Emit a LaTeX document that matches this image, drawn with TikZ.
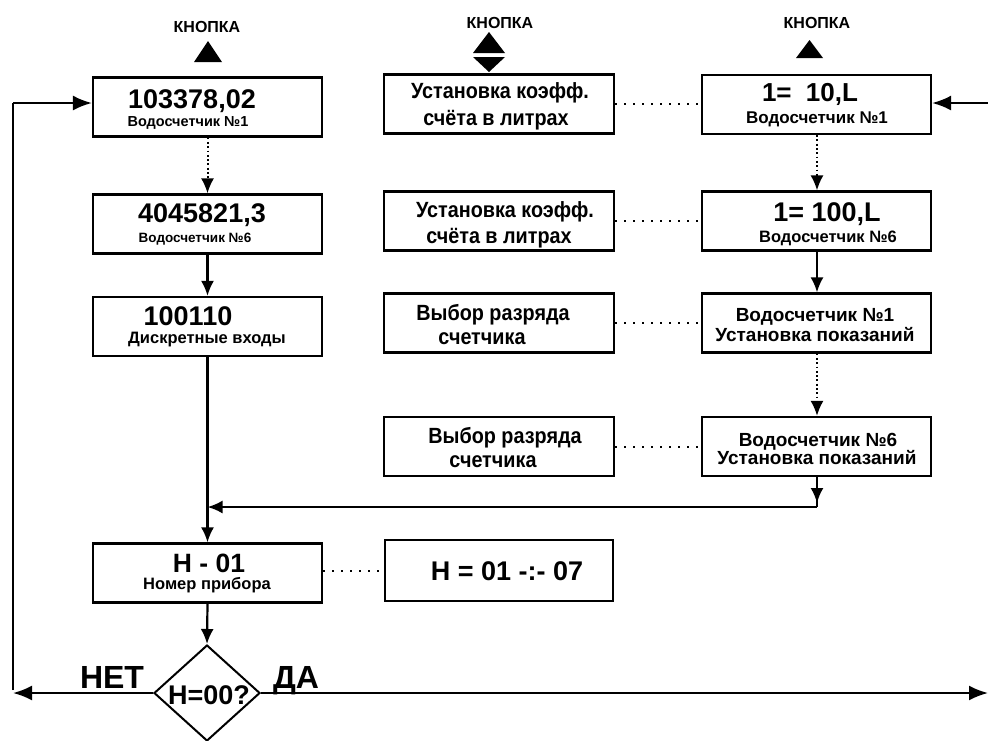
\documentclass[tikz,border=0pt]{standalone}
\usepackage{fontspec}
\setmainfont{Liberation Sans}
\newfontfamily\narrowf[FakeStretch=0.9]{Liberation Sans}
\usetikzlibrary{arrows.meta,shapes.geometric}
\newcommand{\fsz}[1]{\fontsize{#1}{#1}\selectfont}
\begin{document}
\begin{tikzpicture}[x=1pt,y=-1pt,
  box/.style={draw,line width=2.2pt,rectangle,inner sep=0pt,minimum width=229pt,minimum height=59pt},
  txt/.style={inner sep=0pt,anchor=base,font=\bfseries},
  conn/.style={line width=2.2pt,-{Latex[length=15pt,width=13pt]}},
  bigarr/.style={line width=2.2pt,-{Latex[length=19pt,width=15pt]}},
  dotconn/.style={line width=2pt,dash pattern=on 1.8pt off 2.5pt,-{Latex[length=15pt,width=13pt]}},
  dotline/.style={line width=2pt,dash pattern=on 2pt off 7pt},
  plain/.style={line width=2.2pt},
  tri/.style={fill=black,draw=none}]
\useasboundingbox (0,0) rectangle (988,740);
\clip (0,0) rectangle (988,740);

% ---- buttons
\node[txt,font=\bfseries\fsz{16}] (k1) at (207,32) {КНОПКА};
\node[txt,font=\bfseries\fsz{16}] (k2) at (500,28) {КНОПКА};
\node[txt,font=\bfseries\fsz{16}] (k3) at (817,28) {КНОПКА};
\fill[tri] (194,62) -- (222,62) -- (208,41) -- cycle;
\fill[tri] (796,58) -- (823,58) -- (809.5,40) -- cycle;
\fill[tri] (473,53) -- (505,53) -- (489,32) -- cycle;
\fill[tri] (473,57) -- (505,57) -- (489,72) -- cycle;

% ---- left column
\node[box] (l1) at (207.5,107) {};
\node[box] (l2) at (207.5,224) {};
\node[box] (l3) at (207.5,326.5) {};
\node[box] (l4) at (207.5,573) {};
\node[draw,line width=2pt,diamond,inner sep=0pt,minimum width=106pt,minimum height=96pt] (d) at (207,693) {};

\node[txt,font=\bfseries\fsz{27}] (l1a) at (192,108) {103378,02};
\node[txt,font=\bfseries\fsz{14.5}] (l1b) at (188,126) {Водосчетчик №1};
\node[txt,font=\bfseries\fsz{27}] (l2a) at (202,222) {4045821,3};
\node[txt,font=\bfseries\fsz{13.5}] (l2b) at (195,242) {Водосчетчик №6};
\node[txt,font=\bfseries\fsz{27}] (l3a) at (188,325) {100110};
\node[txt,font=\bfseries\fsz{16.5}] (l3b) at (207,343) {Дискретные входы};
\node[txt,font=\bfseries\fsz{26.5}] (l4a) at (209,572) {Н - 01};
\node[txt,font=\bfseries\fsz{16.5}] (l4b) at (207,589) {Номер прибора};
\node[txt,font=\bfseries\fsz{27}] (dt) at (209,704) {Н=00?};
\node[txt,font=\bfseries\fsz{32}] (net) at (112,688) {НЕТ};
\node[txt,font=\bfseries\fsz{32}] (da) at (296,688) {ДА};

% ---- middle column
\node[box,minimum width=230pt] (m1) at (499,104) {};
\node[box,minimum width=230pt] (m2) at (499,221) {};
\node[box,minimum width=230pt] (m3) at (499,323) {};
\node[box,minimum width=230pt] (m4) at (499,446.5) {};
\node[box,minimum width=228pt,minimum height=61pt] (m5) at (499,570.5) {};

\node[txt,font=\narrowf\bfseries\fsz{22}] (m1a) at (500,98) {Установка коэфф.};
\node[txt,font=\narrowf\bfseries\fsz{22}] (m1b) at (496,125) {счёта в литрах};
\node[txt,font=\narrowf\bfseries\fsz{22}] (m2a) at (505,217) {Установка коэфф.};
\node[txt,font=\narrowf\bfseries\fsz{22}] (m2b) at (499,243) {счёта в литрах};
\node[txt,font=\narrowf\bfseries\fsz{22}] (m3a) at (493,320) {Выбор разряда};
\node[txt,font=\narrowf\bfseries\fsz{22}] (m3b) at (482,344) {счетчика};
\node[txt,font=\narrowf\bfseries\fsz{22}] (m4a) at (505,443) {Выбор разряда};
\node[txt,font=\narrowf\bfseries\fsz{22}] (m4b) at (493,467) {счетчика};
\node[txt,font=\bfseries\fsz{27}] (m5a) at (507,580) {Н = 01 -:- 07};

% ---- right column
\node[box] (r1) at (816.5,104.5) {};
\node[box] (r2) at (816.5,221) {};
\node[box] (r3) at (816.5,323) {};
\node[box] (r4) at (816.5,446.5) {};

\node[txt,font=\bfseries\fsz{26}] (r1a) at (810,101) {1=\hspace{0.55em}10,L};
\node[txt,font=\bfseries\fsz{17}] (r1b) at (817,123) {Водосчетчик №1};
\node[txt,font=\bfseries\fsz{27}] (r2a) at (827,221) {1= 100,L};
\node[txt,font=\bfseries\fsz{16.5}] (r2b) at (828,242) {Водосчетчик №6};
\node[txt,font=\bfseries\fsz{19}] (r3a) at (815,321) {Водосчетчик №1};
\node[txt,font=\bfseries\fsz{19}] (r3b) at (815,341) {Установка показаний};
\node[txt,font=\bfseries\fsz{19}] (r4a) at (818,446) {Водосчетчик №6};
\node[txt,font=\bfseries\fsz{19}] (r4b) at (817,464) {Установка показаний};

% ---- connectors left
\draw[dotconn] (l1.south) -- (l2.north);
\draw[conn] (l2.south) -- (l3.north);
\draw[conn] (l3.south) -- (l4.north);
\draw[conn] (l4.south) -- (d.north);

% ---- connectors right
\draw[dotconn] (r1.south -| 817,0) -- (r2.north -| 817,0);
\draw[conn] (r2.south -| 817,0) -- (r3.north -| 817,0);
\draw[dotconn] (r3.south -| 817,0) -- (r4.north -| 817,0);
\coordinate (c1) at (817,507);
\coordinate (c2) at (817,503);
\coordinate (c3) at (207.5,507);
\draw[plain] (r4.south -| c1) -- (c1);
\draw[conn] (r4.south -| c1) -- (c2);
\draw[conn] (c1) -- (c3);

% ---- dotted links
\draw[dotline] (m1.east) -- (r1.west |- m1.east);
\draw[dotline] (m2.east) -- (r2.west);
\draw[dotline] (m3.east) -- (r3.west);
\draw[dotline] (m4.east) -- (r4.west);
\draw[dotline] (l4.east |- m5.west) -- (m5.west);

% ---- loops
\coordinate (lt) at (13,103);
\coordinate (lb) at (13,690);
\coordinate (lbl) at (13,693);
\coordinate (rin) at (988,103);
\coordinate (rout) at (988,693);
\draw[plain] (lb) -- (lt);
\draw[bigarr] (lt) -- (l1.west |- lt);
\draw[bigarr] (rin) -- (r1.east |- rin);
\draw[bigarr] (d.west) -- (lbl);
\draw[bigarr] (d.east) -- (rout);
\end{tikzpicture}
\end{document}
